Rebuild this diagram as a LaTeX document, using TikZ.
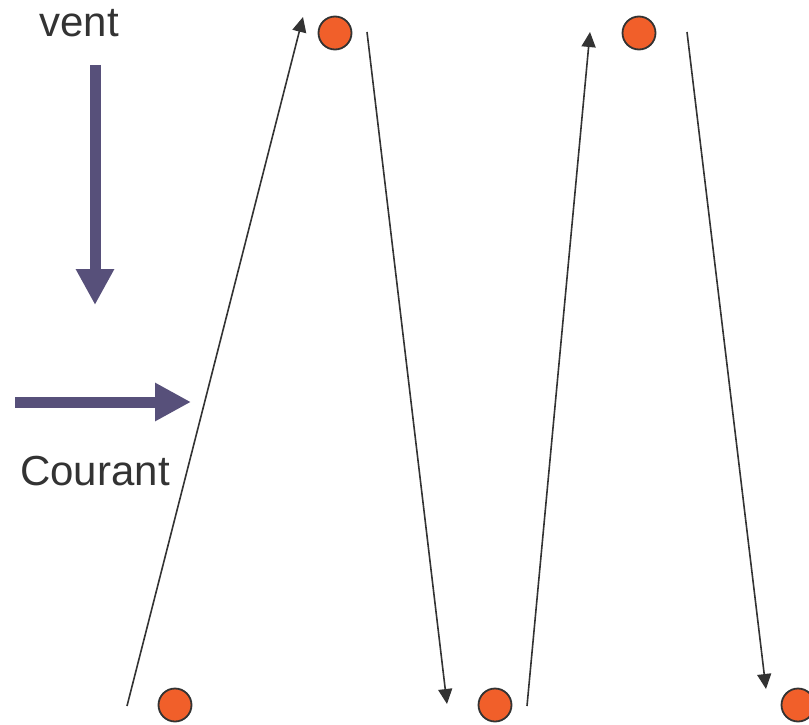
\documentclass[tikz,border=0pt]{standalone}
\usepackage{fontspec}
\setmainfont{Liberation Sans}
\usepackage{tikz}
\usetikzlibrary{positioning,arrows.meta}
\definecolor{buoy}{HTML}{F15F2A}
\definecolor{ink}{HTML}{333333}
\definecolor{slate}{HTML}{57507A}

\begin{document}
\begin{tikzpicture}[
  x=1pt, y=-1pt,
  dot/.style={
    shape=circle,
    fill=buoy,
    draw=ink,
    line width=1.8pt,
    minimum size=33pt,
    inner sep=0pt,
  },
  track/.style={
    draw=ink,
    line width=1.6pt,
    -{Triangle[length=15pt,width=14pt]},
  },
  force/.style={
    draw=slate,
    line width=11pt,
    -{Triangle[length=36pt,width=36pt]},
  },
  label/.style={
    text=ink,
    font=\fontsize{42}{46}\selectfont,
    anchor=base,
  }]
  \useasboundingbox (0,0) rectangle (809,725);
  % buoys
  \node[dot] (b1) at (175,705) {};
  \node[dot] (t1) at (335,33) {};
  \node[dot] (b2) at (495,705) {};
  \node[dot] (t2) at (639,33) {};
  \node[dot] (b3) at (798,705) {};
  % ends of the legs
  \coordinate (s1) at (127,706);
  \coordinate (e1) at (303,17);
  \coordinate (s2) at (367,32);
  \coordinate (e2) at (447,704);
  \coordinate (s3) at (527,706);
  \coordinate (e3) at (590,32);
  \coordinate (s4) at (687,32);
  \coordinate (e4) at (766,689);
  \draw[track] (s1) -- (e1);
  \draw[track] (s2) -- (e2);
  \draw[track] (s3) -- (e3);
  \draw[track] (s4) -- (e4);
  % wind and current
  \node[label] (vent) at (79,37) {vent};
  \node[label] (courant) at (95,485) {Courant};
  \coordinate (v0) at (95,65);
  \coordinate (v1) at (95,305);
  \coordinate (c0) at (15,402);
  \coordinate (c1) at (191,402);
  \draw[force] (v0) -- (v1);
  \draw[force] (c0) -- (c1);
\end{tikzpicture}
\end{document}
